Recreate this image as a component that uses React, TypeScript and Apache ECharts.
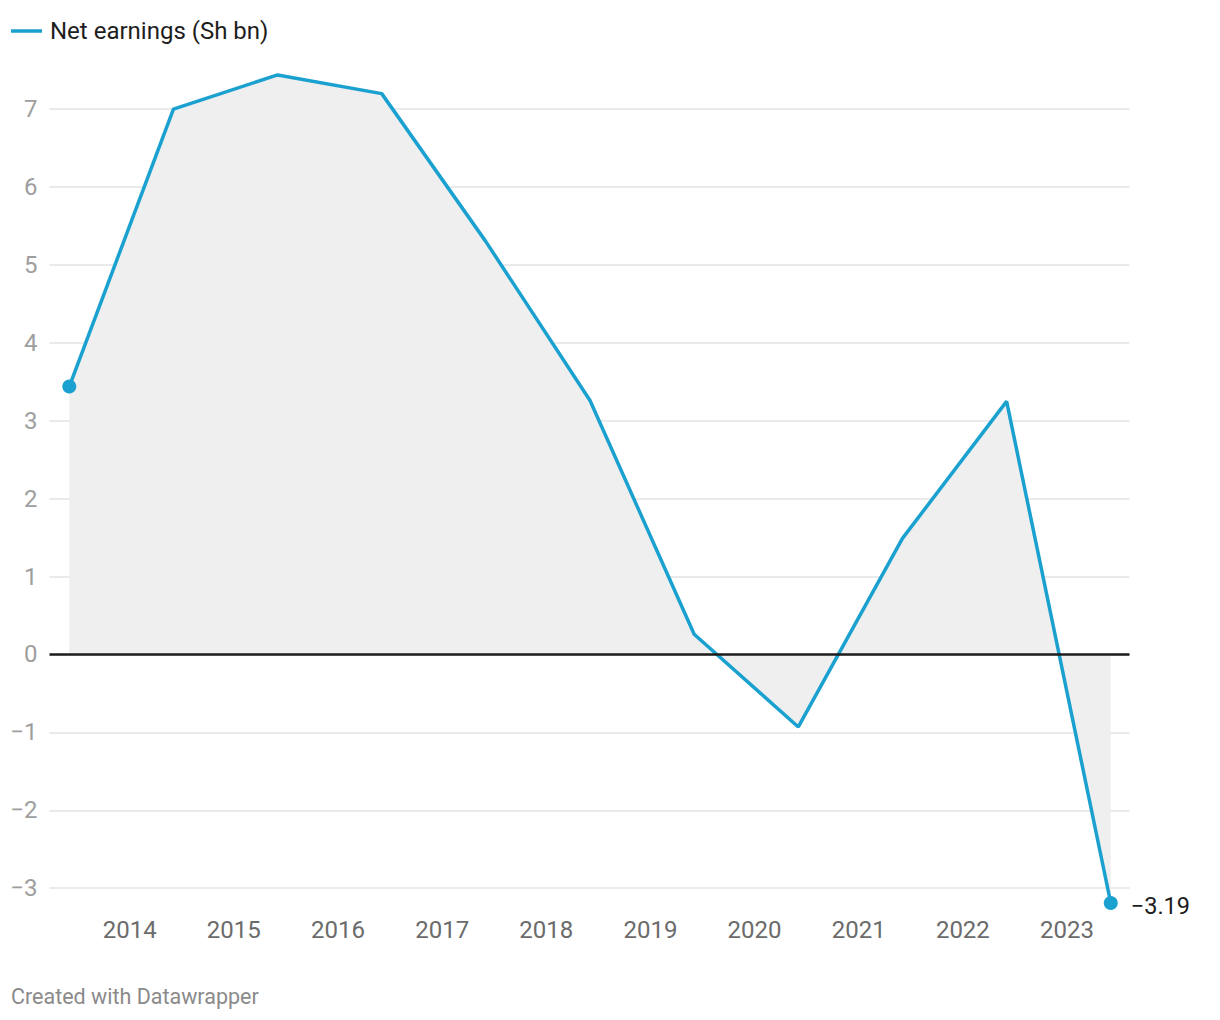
import React, { useEffect, useRef } from "react";
import * as echarts from "echarts";

const years = [2013.42, 2014.42, 2015.42, 2016.42, 2017.42, 2018.42, 2019.42, 2020.42, 2021.42, 2022.42, 2023.42];
const netEarnings = [3.44, 7.0, 7.44, 7.2, 5.3, 3.26, 0.26, -0.93, 1.49, 3.25, -3.19];
const xTickLabels = [2014, 2015, 2016, 2017, 2018, 2019, 2020, 2021, 2022, 2023];
const seriesName = "Net earnings (Sh bn)";
const lastLabel = "\u22123.19";
const footer = "Created with Datawrapper";

const LINE = "#1ba1cf";
const FONT = "Roboto";

export default function App() {
  const ref = useRef<HTMLDivElement>(null);
  useEffect(() => {
    if (!ref.current) return;
    const chart = echarts.init(ref.current, undefined, { renderer: "svg" });
    const n = years.length;
    const data = years.map((x, i) => {
      const item: any = { value: [x, netEarnings[i]] };
      if (i === 0 || i === n - 1) {
        item.symbol = "circle";
        item.symbolSize = 14;
      }
      if (i === n - 1) {
        item.label = {
          show: true,
          position: "right",
          distance: 13,
          offset: [0, 3],
          formatter: lastLabel,
          color: "#1d1d1d",
          fontSize: 23.5,
          fontFamily: FONT,
        };
      }
      return item;
    });
    chart.setOption({
      animation: false,
      textStyle: { fontFamily: FONT },
      legend: {
        show: true,
        left: 11,
        top: 19,
        padding: 0,
        icon: "rect",
        itemWidth: 31,
        itemHeight: 3.5,
        itemGap: 10,
        textStyle: { fontSize: 24, color: "#1d1d1d", fontFamily: FONT, padding: [0, 0, 0, 3] },
        data: [seriesName],
      },
      grid: { left: 49.5, right: 90.5, top: 70.25, bottom: 117 },
      xAxis: {
        type: "value",
        min: 2013.23,
        max: 2023.6,
        axisLine: { show: false },
        axisTick: { show: false },
        splitLine: { show: false },
        axisLabel: {
          customValues: xTickLabels,
          formatter: (v: number) => String(Math.round(v)),
          color: "#6b6b6b",
          fontSize: 24,
          fontFamily: FONT,
          margin: 15,
        },
      },
      yAxis: {
        type: "value",
        min: -3.19,
        max: 7.5,
        minInterval: 1,
        maxInterval: 1,
        splitNumber: 10,
        axisLine: { show: false },
        axisTick: { show: false },
        splitLine: {
          show: true,
          showMinLine: false,
          showMaxLine: false,
          lineStyle: { color: "#e3e3e3", width: 1.5 },
        },
        axisLabel: {
          showMinLabel: false,
          showMaxLabel: false,
          color: "#9e9e9e",
          fontSize: 24,
          fontFamily: FONT,
          margin: 12,
          formatter: (v: number) => String(v).replace("-", "\u2212"),
        },
      },
      series: [
        {
          name: seriesName,
          type: "line",
          data,
          symbol: "none",
          showSymbol: true,
          clip: false,
          lineStyle: { color: LINE, width: 3.5 },
          itemStyle: { color: LINE },
          areaStyle: { color: "#efefef", opacity: 1 },
          markLine: {
            silent: true,
            symbol: "none",
            label: { show: false },
            lineStyle: { color: "#1d1d1d", width: 2.5, type: "solid" },
            data: [{ yAxis: 0 }],
          },
          z: 2,
        },
      ],
      graphic: [
        {
          type: "text",
          left: 11,
          top: 985,
          style: { text: footer, fill: "#8a8a8a", fontSize: 21.5, fontFamily: FONT },
        },
      ],
    });
    return () => chart.dispose();
  }, []);
  return (
    <div
      ref={ref}
      style={{ position: "fixed", left: 0, top: 0, width: 1220, height: 1020, background: "#fff" }}
    />
  );
}
